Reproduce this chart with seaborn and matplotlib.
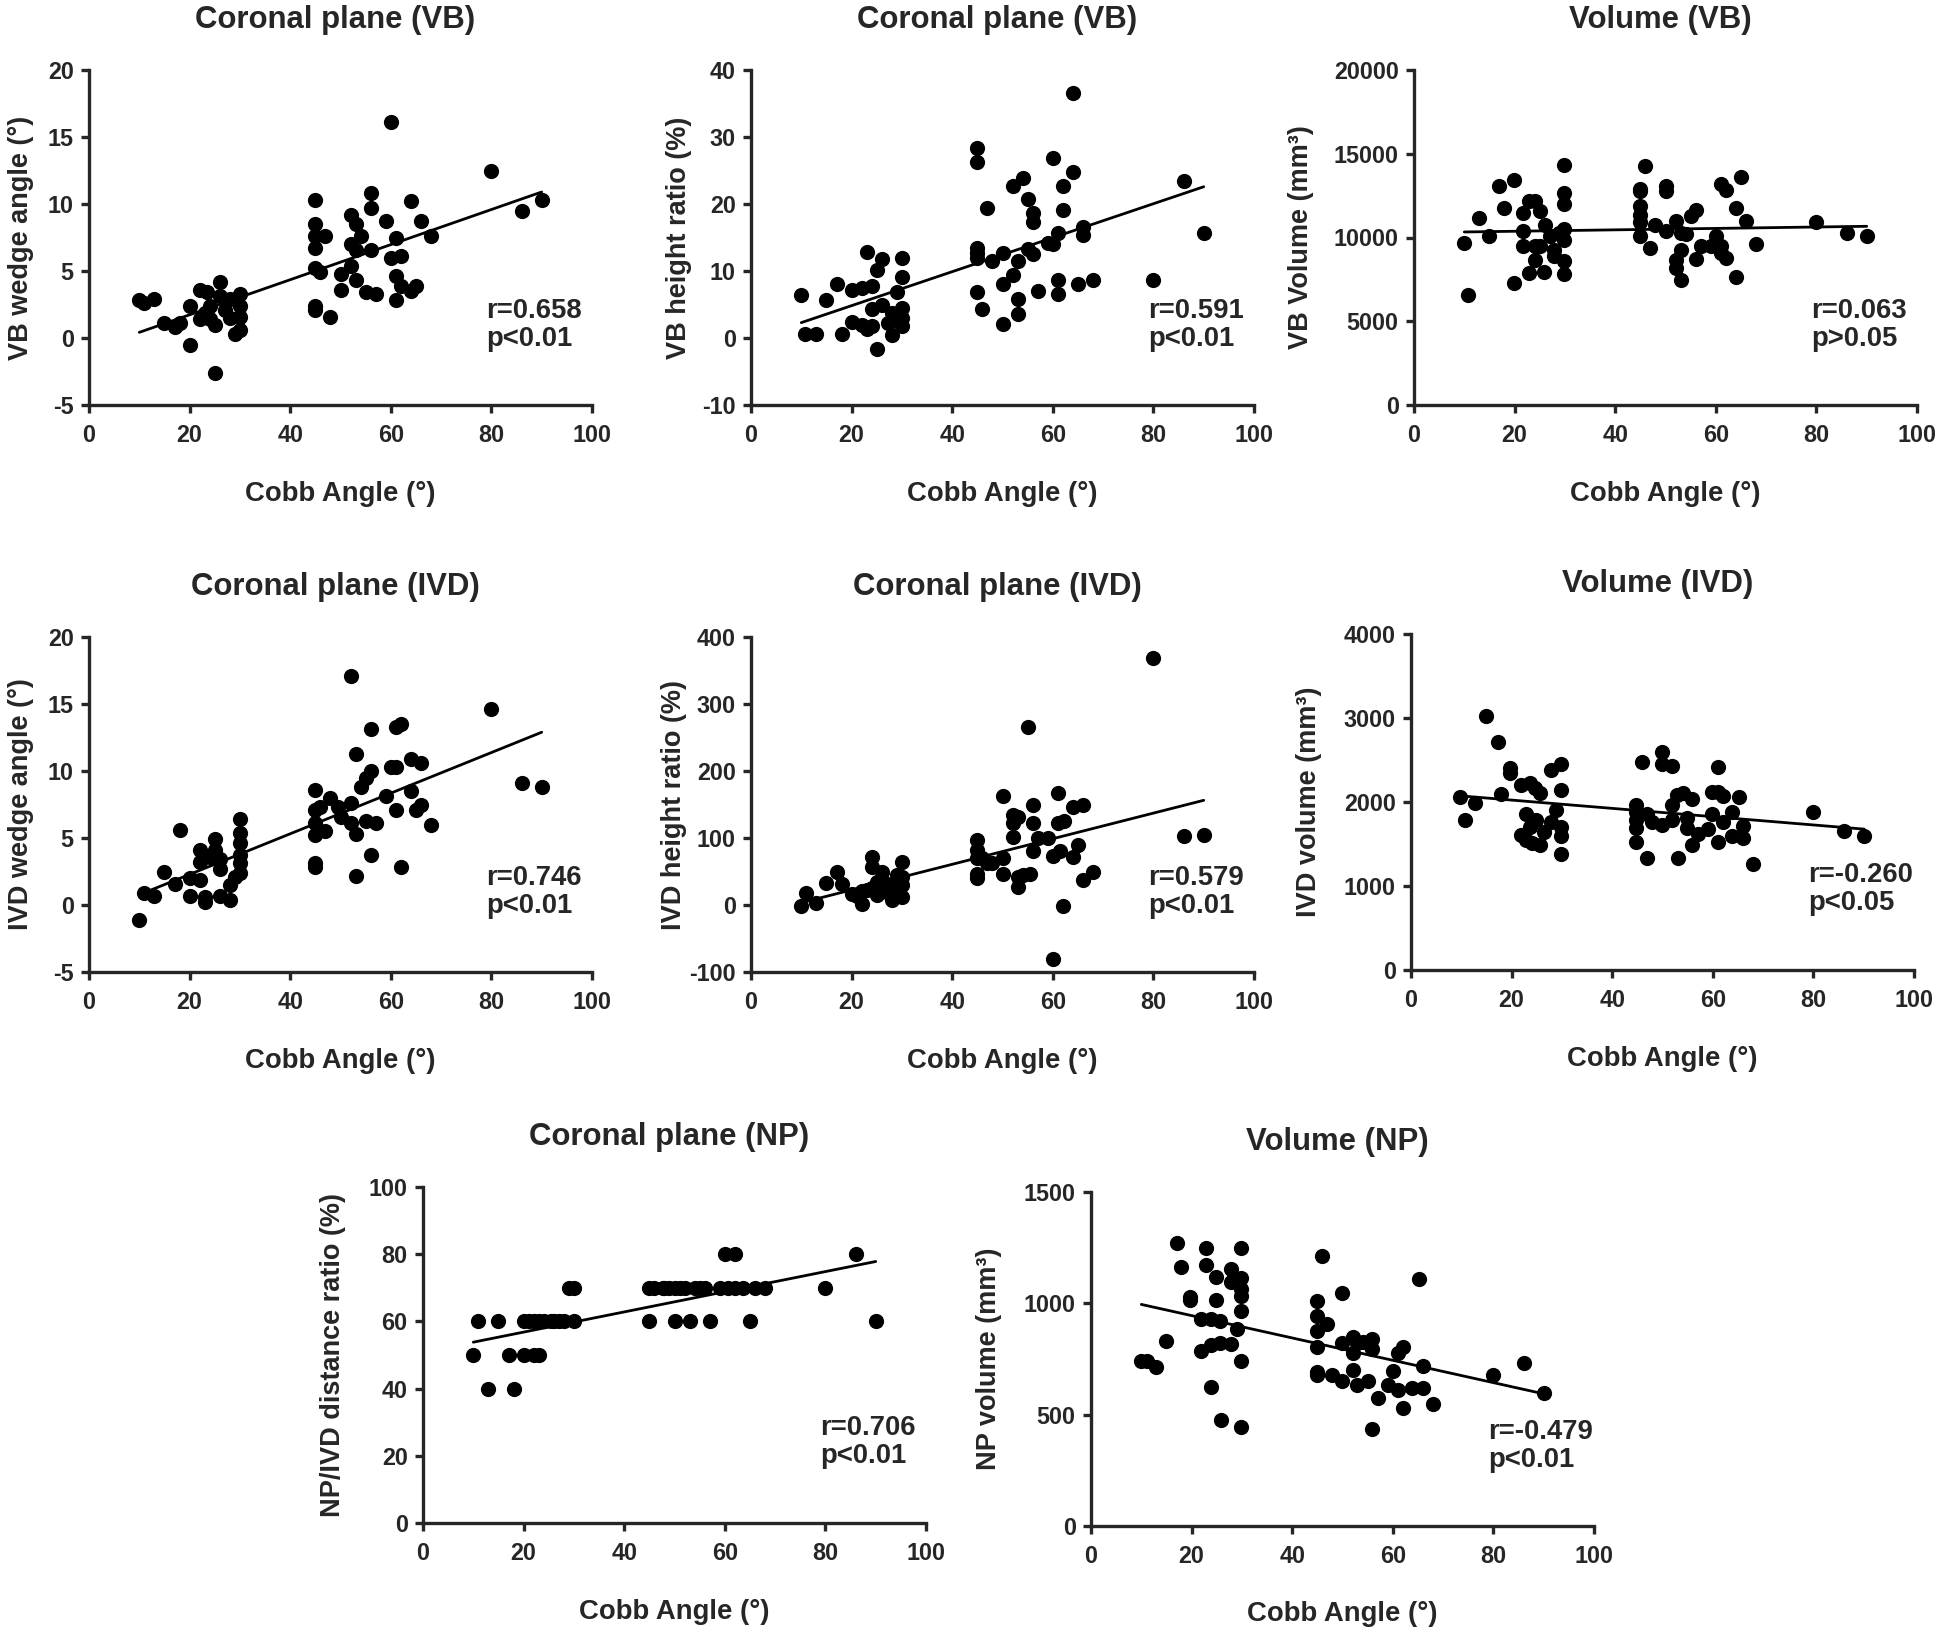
import matplotlib
matplotlib.use("Agg")
import matplotlib.pyplot as plt
import seaborn as sns

# ---- VB wedge angle (deg)
vb_wedge_x = [10, 11, 13, 15, 17, 18, 20, 20, 22, 22, 23.5, 24, 25, 26, 25, 26, 27, 28, 28,
              30, 30, 30, 29, 30, 23, 24,
              45, 45, 45, 47, 45, 45, 46, 45, 45, 48, 50, 50, 52, 53, 54, 52, 53, 52, 53, 55,
              57, 56, 56, 56, 59, 60, 60, 61, 62, 61, 62, 61, 64, 64, 65, 66, 68, 80, 86, 90]
vb_wedge_y = [2.8, 2.6, 2.9, 1.1, 0.8, 1.1, 2.4, -0.5, 3.6, 1.4, 3.4, 2.4, -2.6, 4.2, 1.0, 3.1, 2.1, 2.9, 1.5,
              3.3, 2.4, 1.6, 0.3, 0.6, 1.9, 1.4,
              10.3, 8.5, 7.6, 7.6, 6.7, 5.2, 4.9, 2.4, 2.1, 1.6, 4.8, 3.6, 9.2, 8.5, 7.6, 7.0, 6.6, 5.4, 4.3, 3.4,
              3.3, 10.8, 9.7, 6.6, 8.7, 16.1, 6.0, 7.5, 6.1, 4.6, 3.9, 2.8, 10.2, 3.5, 3.9, 8.7, 7.6, 12.5, 9.5, 10.3]

# ---- VB height ratio (%)
vb_height_x = [10, 10.8, 13, 15, 17, 18, 20, 20, 22, 22, 23, 23, 24, 24, 24, 25, 25, 26, 26, 28, 28, 29,
               30, 30, 30, 30, 30, 29, 27.3,
               45, 45, 45, 45, 45, 45, 46, 47, 48, 50, 50, 50, 52, 52, 53, 53, 53, 54, 55, 55, 56, 56, 56,
               57, 59, 60, 60, 61, 61, 61, 62, 62, 64, 64, 65, 66, 66, 68, 80, 86, 90]
vb_height_y = [6.4, 0.6, 0.6, 5.6, 8.0, 0.6, 7.2, 2.4, 7.5, 2.0, 12.9, 1.3, 7.8, 1.8, 4.3, -1.6, 10.1, 11.8, 5.0,
               3.8, 0.5, 6.8, 11.9, 9.1, 4.5, 3.0, 1.8, 2.8, 2.3,
               28.3, 26.2, 13.5, 12.7, 12.0, 6.8, 4.4, 19.4, 11.5, 12.7, 8.1, 2.1, 22.7, 9.4, 11.5, 5.8, 3.6,
               23.9, 20.8, 13.3, 18.7, 17.3, 12.5, 7.0, 14.2, 26.8, 14.1, 15.7, 8.7, 6.5, 22.7, 19.1, 36.5,
               24.8, 8.1, 16.6, 15.3, 8.7, 8.7, 23.4, 15.6]

# ---- VB volume (mm3)
vb_volume_x = [10, 10.8, 12.9, 14.9, 16.8, 17.8, 19.9, 19.9, 21.7, 21.7, 21.7, 22.9, 22.9, 24, 24, 24, 25, 25,
               25.8, 26, 27, 27.9, 27.9, 29.8, 29.8, 29.8, 29.8, 29.8, 29.8, 29.8, 28.8,
               45, 45, 45, 45, 45, 45, 46, 47, 48, 50, 50, 50, 52, 52, 52, 53, 53, 53, 54, 55, 56, 56, 57, 59,
               60, 60, 61, 62, 61, 61, 62, 64, 64, 65, 66, 68, 80, 86, 90]
vb_volume_y = [9670, 6590, 11160, 10110, 13050, 11760, 13440, 7290, 11460, 10370, 9470, 12150, 7880, 12150,
               9470, 8680, 11560, 9470, 7920, 10760, 10070, 9270, 8880, 14340, 12650, 12000, 10510, 9870,
               8580, 7840, 10270,
               12890, 12750, 11860, 11360, 10900, 10110, 14240, 9370, 10760, 13050, 12750, 10370, 10960,
               8680, 8180, 9270, 7490, 10270, 10210, 11260, 11660, 8720, 9510, 9510, 10070, 9570, 13210,
               12810, 9470, 9080, 8780, 11760, 7650, 13600, 10960, 9610, 10920, 10270, 10070]

# ---- IVD wedge angle (deg)
ivd_wedge_x = [10, 11, 13, 15, 17, 18, 20, 20, 22, 22, 22, 23, 23, 24, 25, 25, 26, 26, 26, 28, 28, 29,
               30, 30, 30, 30, 30, 30,
               45, 45, 45, 45, 45, 45, 46, 47, 48, 49.6, 50, 52, 52, 52, 53, 53, 53, 54, 55, 56, 56, 55, 57,
               56, 59, 60, 61, 61, 61, 62, 62, 64, 64, 65, 66, 66, 68, 80, 86, 90]
ivd_wedge_y = [-1.1, 0.9, 0.7, 2.5, 1.6, 5.6, 2.0, 0.7, 4.1, 3.2, 1.9, 0.6, 0.2, 3.6, 4.9, 4.1, 3.4, 2.7, 0.7,
               0.4, 1.5, 2.1, 6.4, 5.4, 4.6, 3.7, 3.1, 2.4,
               8.6, 7.1, 6.1, 5.2, 3.1, 2.8, 7.3, 5.5, 8.0, 7.3, 6.6, 7.6, 6.1, 17.1, 5.3, 2.2, 11.3, 8.8, 9.5,
               10.0, 13.1, 6.3, 6.1, 3.7, 8.1, 10.3, 10.3, 7.1, 13.3, 13.5, 2.8, 8.5, 10.9, 7.1, 7.5, 10.6,
               6.0, 14.6, 9.1, 8.8]

# ---- IVD height ratio (%)
ivd_height_x = [10, 11, 13, 15, 17, 18, 20, 22, 22, 23, 24, 24, 25, 26, 26, 28, 28, 30, 30, 30, 30, 29, 27,
                21, 24, 25, 27, 29,
                45, 45, 45, 45, 45, 46, 47, 48, 50, 50, 50, 52, 52, 52, 53, 53, 53, 54, 55, 55.5, 56, 56, 56,
                57, 59, 60, 60, 61, 61, 61.4, 62, 62.2, 64, 64, 65, 66, 66, 68, 80, 86, 90]
ivd_height_y = [-2, 18, 3, 33, 50, 31, 17, 21, 1, 23, 71, 56, 15, 50, 27, 7, 25, 64, 42, 30, 12, 22, 20,
                13, 25, 35, 32, 45,
                97, 82, 70, 47, 40, 70, 62, 62, 163, 70, 47, 134, 122, 102, 132, 42, 27, 45, 265, 47, 150,
                122, 80, 100, 100, 73, -81, 167, 122, 80, -2, 126, 146, 71, 90, 150, 37, 50, 368, 103, 104]

# ---- IVD volume (mm3)
ivd_volume_x = [9.8, 10.8, 12.8, 15, 17.2, 17.8, 19.7, 19.7, 21.8, 21.8, 22.9, 22.9, 23.7, 23.7, 24, 24.7,
                24.9, 25.7, 25.7, 26.4, 27.8, 27.8, 28.8, 29.9, 29.9, 29.9, 29.9, 29.9,
                44.8, 44.8, 44.8, 44.8, 44.8, 46, 46.9, 47, 48, 49.9, 49.9, 49.9, 51.8, 51.8, 51.8, 52.9, 53,
                54, 54.9, 54.9, 55.9, 55.9, 57, 59, 59.9, 59.9, 61.1, 61.1, 61.1, 62.1, 62.1, 63.8, 63.8,
                65.2, 66, 66, 68, 80, 86.1, 90.1]
ivd_volume_y = [2063, 1786, 1992, 3024, 2718, 2091, 2401, 2341, 2202, 1607, 1857, 1548, 2230, 1706, 1508,
                2163, 1786, 2111, 1488, 1647, 2381, 1766, 1905, 2452, 2143, 1706, 1595, 1377,
                1964, 1885, 1786, 1687, 1528, 2480, 1857, 1337, 1766, 2599, 2452, 1726, 2429, 1964, 1786,
                2083, 1329, 2111, 1806, 1687, 2032, 1488, 1619, 1675, 2123, 1857, 2421, 2123, 1528, 2071,
                1766, 1885, 1595, 2056, 1714, 1567, 1258, 1885, 1659, 1599]

# ---- NP/IVD distance ratio (%)
np_dist_x = [10, 11, 13, 15, 17, 18, 20, 20, 22, 22, 23, 23, 24, 25.4, 28, 29, 30, 30, 21, 26, 27,
             45, 45, 46, 47.7, 50, 50, 52, 53, 54, 56, 57, 59, 60, 62, 60.7, 62, 63.7, 65, 66, 68, 80, 86, 90,
             48, 49, 51, 55]
np_dist_y = [50, 60, 40, 60, 50, 40, 60, 50, 60, 50, 50, 60, 60, 60, 60, 70, 70, 60, 60, 60, 60,
             70, 60, 70, 70, 70, 60, 70, 60, 70, 70, 60, 70, 80, 80, 70, 70, 70, 60, 70, 70, 70, 80, 60,
             70, 70, 70, 70]

# ---- NP volume (mm3)
np_volume_x = [10, 11.2, 13, 15, 17, 17.8, 19.7, 19.7, 21.8, 21.8, 22.9, 22.9, 23.8, 23.8, 23.8, 24.9, 24.9,
               25.7, 25.7, 25.9, 27.8, 27.8, 27.8, 29, 29.9, 29.9, 29.9, 29.9, 29.9, 29.9, 29.9,
               45, 45, 45, 45, 45, 45, 46, 46.9, 48, 49.9, 49.9, 49.9, 52, 52, 52, 52.9, 52.9, 54, 55,
               55.9, 55.9, 55.9, 57, 59, 60, 61.1, 62.1, 61.1, 62.1, 63.8, 65.2, 66, 66, 68, 80, 86.1, 90.1]
np_volume_y = [743, 743, 716, 830, 1269, 1165, 1030, 1015, 930, 785, 1248, 1173, 930, 815, 623, 1120, 1015,
               919, 821, 478, 1154, 1094, 818, 885, 1248, 1114, 1064, 1034, 964, 743, 444,
               1012, 945, 875, 806, 691, 676, 1214, 907, 676, 1045, 821, 653, 848, 776, 701, 821, 635, 825,
               650, 840, 795, 437, 576, 635, 695, 776, 803, 611, 531, 620, 1109, 720, 620, 546, 680, 733, 596]

titles = ["Coronal plane (VB)", "Coronal plane (VB)", "Volume (VB)",
          "Coronal plane (IVD)", "Coronal plane (IVD)", "Volume (IVD)",
          "Coronal plane (NP)", "Volume (NP)"]
ylabels = ["VB wedge angle (°)", "VB height ratio (%)", "VB Volume (mm³)",
           "IVD wedge angle (°)", "IVD height ratio (%)", "IVD volume (mm³)",
           "NP/IVD distance ratio (%)", "NP volume (mm³)"]
stats = ["r=0.658\np<0.01", "r=0.591\np<0.01", "r=0.063\np>0.05",
         "r=0.746\np<0.01", "r=0.579\np<0.01", "r=-0.260\np<0.05",
         "r=0.706\np<0.01", "r=-0.479\np<0.01"]
yticks = [range(-5, 21, 5), range(-10, 41, 10), range(0, 20001, 5000),
          range(-5, 21, 5), range(-100, 401, 100), range(0, 4001, 1000),
          range(0, 101, 20), range(0, 1501, 500)]
xs = [vb_wedge_x, vb_height_x, vb_volume_x, ivd_wedge_x, ivd_height_x, ivd_volume_x, np_dist_x, np_volume_x]
ys = [vb_wedge_y, vb_height_y, vb_volume_y, ivd_wedge_y, ivd_height_y, ivd_volume_y, np_dist_y, np_volume_y]

W, H = 1944, 1630
# axes boxes in pixels: left, top, right, bottom
boxes = [(89, 70, 592, 405), (751, 70, 1254, 405), (1414, 70, 1917, 405),
         (89, 637, 592, 972), (751, 637, 1254, 972), (1411, 634, 1914, 970),
         (423, 1187, 926, 1523), (1091, 1192, 1594, 1526)]
# right edge of the y label, in axes fraction
ylab_x = [-0.11, -0.118, -0.198, -0.11, -0.128, -0.177, -0.153, -0.177]

sns.set_style("ticks")
plt.rcParams["font.family"] = ["Liberation Sans", "DejaVu Sans"]
plt.rcParams["font.weight"] = "bold"
plt.rcParams["axes.labelweight"] = "bold"
plt.rcParams["axes.unicode_minus"] = False

fig = plt.figure(figsize=(W / 100, H / 100), dpi=100)

for i in range(8):
    l, t, r, b = boxes[i]
    ax = fig.add_axes([l / W, 1 - b / H, (r - l) / W, (b - t) / H])
    sns.regplot(x=xs[i], y=ys[i], ax=ax, ci=None,
                scatter_kws=dict(s=120, color="black", alpha=1, linewidths=0),
                line_kws=dict(color="black", lw=2))
    ticks = list(yticks[i])
    ax.set_xlim(0, 100)
    ax.set_ylim(ticks[0], ticks[-1])
    ax.set_xticks(range(0, 101, 20))
    ax.set_yticks(ticks)
    sns.despine(ax=ax)
    for side in ["left", "bottom"]:
        ax.spines[side].set_linewidth(2.4)
    ax.tick_params(width=2.4, length=6, labelsize=16.8)
    ax.tick_params(axis="x", pad=8)
    ax.tick_params(axis="y", pad=5)
    for lab in ax.get_xticklabels() + ax.get_yticklabels():
        lab.set_fontweight("bold")
    ax.set_xlabel("Cobb Angle (°)", fontsize=19.8, fontweight="bold")
    ax.set_ylabel(ylabels[i], fontsize=19.5, fontweight="bold")
    ax.xaxis.set_label_coords(0.5, -0.226)
    ax.yaxis.set_label_coords(ylab_x[i], 0.5)
    ax.text(0.49, 1.15, titles[i], transform=ax.transAxes, ha="center", va="center",
            fontsize=22.4, fontweight="bold")
    ax.text(0.79, 0.32, stats[i], transform=ax.transAxes, ha="left", va="top",
            fontsize=19.8, fontweight="bold", linespacing=1.1)

fig.savefig("out.png", dpi=100)
